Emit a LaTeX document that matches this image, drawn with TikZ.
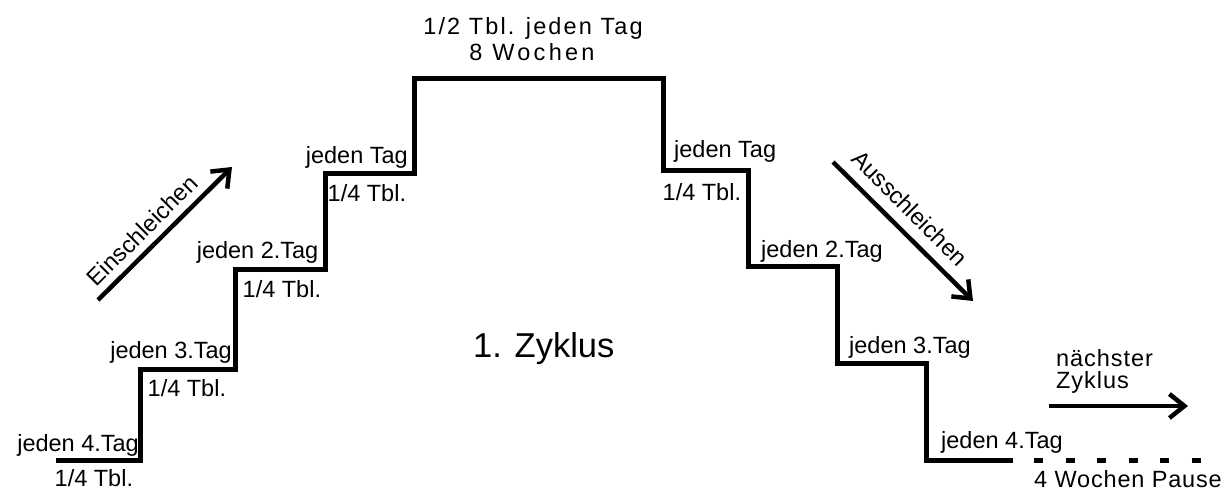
\documentclass[tikz,border=0pt]{standalone}
\usepackage{fontspec}
\setmainfont{Liberation Sans}
\usetikzlibrary{arrows.meta}
\begin{document}
\begin{tikzpicture}[x=1pt,y=-1pt,
  stair/.style={line width=5pt, line join=miter},
  pause/.style={line width=5pt, dash pattern=on 9pt off 22.5pt},
  lbl/.style={inner sep=0pt, font=\fontsize{23.5}{28}\selectfont},
  wide/.style={inner sep=0pt, font=\fontsize{23.5}{28}\selectfont\addfontfeature{LetterSpace=#1}},
  trend/.style={line width=4.5pt, -{Straight Barb[length=15pt,width=24pt]}},
]
\path[use as bounding box] (0,0) rectangle (1229,490);

% dosage staircase: rising, plateau, falling
\draw[stair] (56,460.5) -- (140.5,460.5) -- (140.5,369) -- (235.5,369) -- (235.5,269)
  -- (325.5,269) -- (325.5,173) -- (414.5,173) -- (414.5,78.5) -- (663,78.5)
  -- (663,170.5) -- (748.5,170.5) -- (748.5,266.5) -- (837.5,266.5) -- (837.5,363.5)
  -- (926,363.5) -- (926,460.5) -- (1013,460.5);
% break before the next cycle
\draw[pause] (1034,460.5) -- (1201,460.5);

% left side labels
\node[lbl, anchor=base east] (l4) at (139,451) {jeden 4.Tag};
\node[lbl, anchor=base west] (q1) at (54.5,486.5) {1/4 Tbl.};
\node[lbl, anchor=base east] (l3) at (232,358) {jeden 3.Tag};
\node[lbl, anchor=base west] (q2) at (147.5,396) {1/4 Tbl.};
\node[lbl, anchor=base east] (l2) at (318.5,258) {jeden 2.Tag};
\node[lbl, anchor=base west] (q3) at (242.5,297) {1/4 Tbl.};
\node[lbl, anchor=base east] (l1) at (408,163.5) {jeden Tag};
\node[lbl, anchor=base west] (q4) at (327.5,201) {1/4 Tbl.};

% plateau
\node[wide=9, anchor=base] (top1) at (533,34.3) {1/2 Tbl. jeden Tag};
\node[wide=14, anchor=base] (top2) at (532,60) {8 Wochen};

% right side labels
\node[lbl, anchor=base west] (r1) at (674,157) {jeden Tag};
\node[lbl, anchor=base west] (q5) at (662.5,200) {1/4 Tbl.};
\node[lbl, anchor=base west] (r2) at (761,257) {jeden 2.Tag};
\node[lbl, anchor=base west] (r3) at (849,353) {jeden 3.Tag};
\node[lbl, anchor=base west] (r4) at (941,448) {jeden 4.Tag};
\node[wide=3.5, anchor=base west] (pz) at (1034,487) {4 Wochen Pause};

% cycle title
\node[inner sep=0pt, font=\fontsize{34.5}{40}\selectfont, anchor=base west] (zyk) at (473,357) {1. Zyklus};

% trend arrows
\coordinate (einA) at (98,300);
\coordinate (einB) at (232,167);
\draw[trend] (einA) -- (einB);
\node[lbl, anchor=base, rotate=45] (ein) at (148,236.5) {Einschleichen};

\coordinate (ausA) at (833,162);
\coordinate (ausB) at (973,301);
\draw[trend] (ausA) -- (ausB);
\node[lbl, anchor=base, rotate=-45] (aus) at (904,214) {Ausschleichen};

\node[wide=4, anchor=base west] (nx1) at (1056,366) {nächster};
\node[wide=4, anchor=base west] (nx2) at (1056,388.5) {Zyklus};
\coordinate (nxA) at (1049,406);
\coordinate (nxB) at (1188,406);
\draw[trend] (nxA) -- (nxB);
\end{tikzpicture}
\end{document}
